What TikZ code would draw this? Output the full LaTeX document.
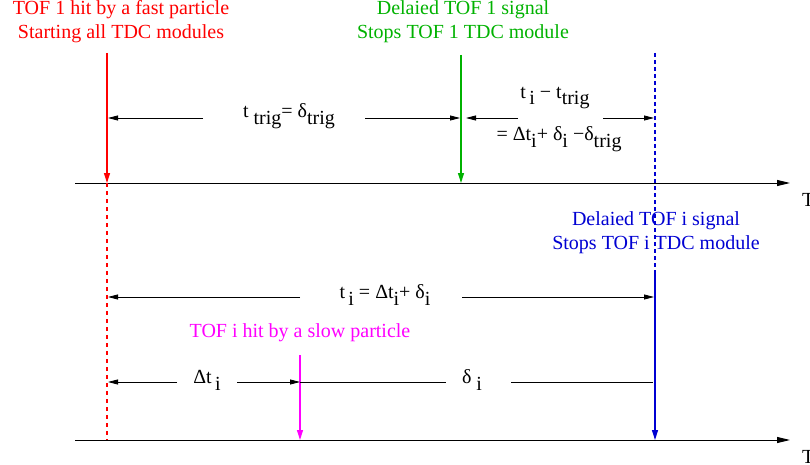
\documentclass[tikz,border=0pt]{standalone}
\usepackage{fontspec}
\setmainfont{Liberation Serif}
\usepackage{xcolor}
\usepackage{tikz}
\usetikzlibrary{arrows.meta}
\definecolor{hitred}{RGB}{255,0,0}
\definecolor{stopgreen}{RGB}{0,178,0}
\definecolor{stopblue}{RGB}{0,0,210}
\definecolor{hitmag}{RGB}{255,0,255}
\newcommand{\lo}[1]{\raisebox{-0.75ex}{#1}}
\tikzset{
  axis/.style={-{Triangle[length=13pt,width=6pt]}, line width=1pt},
  sig/.style={-{Triangle[length=10pt,width=6pt]}, line width=1.3pt},
  dim/.style={-{Triangle[length=10pt,width=5pt]}, line width=0.8pt},
  plain/.style={line width=0.8pt},
  txt/.style={align=center, font=\fontsize{20}{24}\selectfont, inner sep=0pt}
}

\begin{document}
\begin{tikzpicture}[x=1pt,y=-1pt]
  \useasboundingbox (0,0) rectangle (810,465);
  % time axes
  \coordinate (ax1s) at (75,183);  \coordinate (ax1e) at (790,183);
  \coordinate (ax2s) at (75,440);  \coordinate (ax2e) at (790,440);
  \draw[axis] (ax1s) -- (ax1e);
  \draw[axis] (ax2s) -- (ax2e);
  \node[txt, anchor=west] (T1) at (802,200) {T};
  \node[txt, anchor=west] (T2) at (802,457) {T};

  % signal lines
  \coordinate (r0) at (107,53);  \coordinate (r1) at (107,183); \coordinate (r2) at (107,440);
  \coordinate (g0) at (461,55);  \coordinate (g1) at (461,183);
  \coordinate (b0) at (655,53);  \coordinate (b1) at (655,273); \coordinate (b2) at (655,440);
  \coordinate (m0) at (300,355); \coordinate (m1) at (300,440);
  \begin{scope}[color=hitred]
    \draw[sig] (r0) -- (r1);
    \draw[line width=1.3pt, dash pattern=on 4pt off 4pt] (r1) -- (r2);
  \end{scope}
  \begin{scope}[color=stopgreen]
    \draw[sig] (g0) -- (g1);
  \end{scope}
  \begin{scope}[color=stopblue]
    \draw[line width=1.3pt, dash pattern=on 4pt off 3pt] (b0) -- (b1);
    \draw[sig] (b1) -- (b2);
  \end{scope}
  \begin{scope}[color=hitmag]
    \draw[sig] (m0) -- (m1);
  \end{scope}

  % captions
  \node[txt, text=hitred] (hit1) at (121,22) {TOF 1 hit by a fast particle\\Starting all TDC modules};
  \node[txt, text=stopgreen] (stop1) at (463,22) {Delaied TOF 1 signal\\Stops TOF 1 TDC module};
  \node[txt, text=stopblue] (stopi) at (656,233) {Delaied TOF i signal\\Stops TOF i TDC module};
  \node[txt, text=hitmag] (hiti) at (300,333) {TOF i hit by a slow particle};

  % t_trig
  \node[txt] (ttrig) at (289,116) {t \lo{trig}= δ\lo{trig}};
  \coordinate (tt0) at (108,118); \coordinate (tt1) at (203,118);
  \coordinate (tt2) at (365,118); \coordinate (tt3) at (460,118);
  \draw[dim] (tt1) -- (tt0);
  \draw[dim] (tt2) -- (tt3);

  % t_i - t_trig
  \node[txt] (tdiff) at (555,98) {t\,\lo{i} − t\lo{trig}};
  \node[txt] (tdiffb) at (559,139) {= Δt\lo{i}+ δ\lo{i} −δ\lo{trig}};
  \coordinate (td0) at (466,118); \coordinate (td1) at (518,118);
  \coordinate (td2) at (603,118); \coordinate (td3) at (654,118);
  \draw[dim] (td1) -- (td0);
  \draw[dim] (td2) -- (td3);

  % t_i
  \node[txt] (ti) at (385,295) {t\,\lo{i} = Δt\lo{i}+ δ\lo{i}};
  \coordinate (ti0) at (108,297); \coordinate (ti1) at (300,297);
  \coordinate (ti2) at (462,297); \coordinate (ti3) at (654,297);
  \draw[dim] (ti1) -- (ti0);
  \draw[dim] (ti2) -- (ti3);

  % Delta t_i and delta_i
  \node[txt] (dti) at (207,380) {Δt\,\lo{i}};
  \coordinate (dt0) at (108,382); \coordinate (dt1) at (177,382);
  \coordinate (dt2) at (237,382); \coordinate (dt3) at (300,382);
  \draw[dim] (dt1) -- (dt0);
  \draw[dim] (dt2) -- (dt3);
  \node[txt] (deli) at (472,380) {δ \lo{i}};
  \coordinate (de1) at (446,382); \coordinate (de2) at (511,382);
  \coordinate (de3) at (653,382);
  \draw[plain] (dt3) -- (de1);
  \draw[plain] (de2) -- (de3);
\end{tikzpicture}
\end{document}
